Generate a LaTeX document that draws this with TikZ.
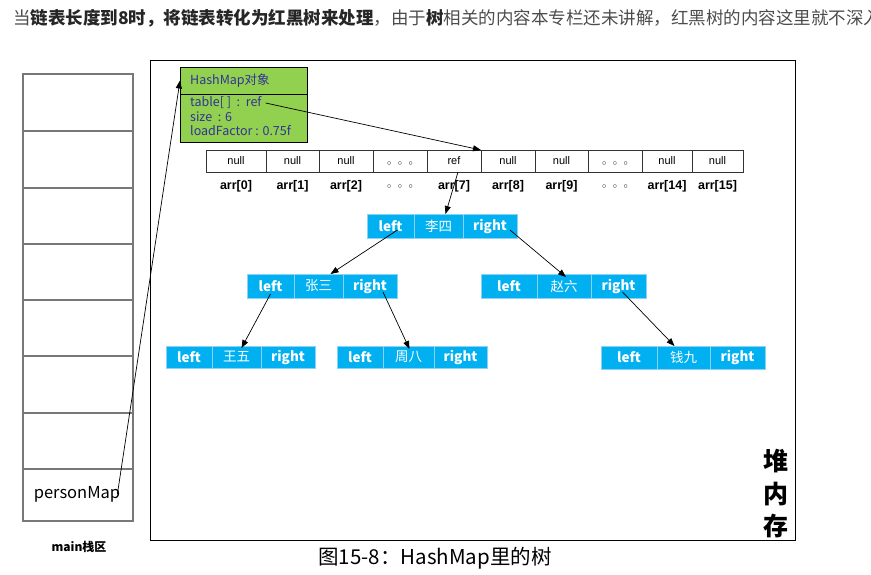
\documentclass[tikz,border=0pt]{standalone}
\usepackage{fontspec}
\setmainfont{Noto Sans CJK SC}
\newfontfamily\arialfont{Liberation Sans}
\usetikzlibrary{arrows.meta,positioning}
\definecolor{tree-blue}{RGB}{0,176,240}
\definecolor{tree-edge}{RGB}{140,210,245}
\definecolor{hm-green}{RGB}{146,208,80}
\definecolor{hm-text}{RGB}{50,50,150}
\definecolor{stack-grey}{RGB}{120,120,120}
\newcommand{\smalldots}[1]{\raisebox{#1}[0pt][0pt]{\fontsize{8}{9}\selectfont$\circ$\hspace{6.5pt}$\circ$\hspace{6.5pt}$\circ$}}

\begin{document}
\begin{tikzpicture}[x=1pt, y=-1pt, >={Triangle[length=8pt,width=6pt]},
    tc/.style={draw=tree-edge, fill=tree-blue, text=white, line width=0.8pt, outer sep=0pt, inner sep=0pt, minimum height=24pt, font=\fontsize{13.5}{14}\selectfont},
    cell/.style={draw=black!80, line width=0.6pt, outer sep=0pt, inner sep=0pt, minimum height=22pt, font=\arialfont\fontsize{11}{12}\selectfont},
    idx/.style={font=\arialfont\bfseries\fontsize{12.5}{13}\selectfont, inner sep=0pt, below=8pt of #1},
    hm/.style={draw=black, fill=hm-green, line width=0.8pt, outer sep=0pt, minimum width=127pt, anchor=north west},
    hmt/.style={text=hm-text, inner sep=0pt, anchor=west, font=\fontsize{12.5}{13}\selectfont}]
  \useasboundingbox (0,0) rectangle (871,574);

  \node[anchor=west, inner sep=0pt, text=black!70, font=\fontsize{17.5}{20}\selectfont] (intro) at (13,18)
    {当{\bfseries\color{black!85}链表长度到8时，将链表转化为红黑树来处理}，由于{\bfseries\color{black!85}树}相关的内容本专栏还未讲解，红黑树的内容这里就不深入};

  % stack
  \draw[stack-grey, line width=1.3pt] (23,74) rectangle (133,521);
  \foreach \y in {131,188,244,300,356,413,469}
    \draw[stack-grey, line width=1.3pt] (23,\y) -- (133,\y);
  \node[font=\fontsize{16.5}{18}\selectfont, inner sep=0pt] (pm) at (77,494) {personMap};
  \node[font=\bfseries\fontsize{12}{13}\selectfont] (stackLbl) at (79,547) {main栈区};

  % heap
  \draw[line width=0.9pt] (150,60) rectangle (795,540);
  \node[font=\bfseries\fontsize{25}{32.5}\selectfont, align=center, inner sep=0pt] (heapLbl) at (776,494) {堆\\内\\存};

  \node[hm, minimum height=27pt] (hmTitle) at (180,67) {};
  \node[hmt] (hmName) at (190,80.5) {HashMap对象};
  \node[hm, minimum height=48pt, below=0pt of hmTitle] (hmBody) {};
  \node[hmt] (tbl) at (190,103) {table[\ ]\ \ :\ \ ref};
  \node[hmt] (sz) at (190,117) {size\ \ : 6};
  \node[hmt] (lf) at (190,131) {loadFactor : 0.75f};

  % table
  \node[cell, minimum width=60pt, anchor=north west] (c0) at (206,150) {null};
  \node[cell, minimum width=53pt, right=0pt of c0] (c1) {null};
  \node[cell, minimum width=54pt, right=0pt of c1] (c2) {null};
  \node[cell, minimum width=54pt, right=0pt of c2] (cd1) {\smalldots{-4pt}};
  \node[cell, minimum width=54pt, right=0pt of cd1] (c7) {ref};
  \node[cell, minimum width=54pt, right=0pt of c7] (c8) {null};
  \node[cell, minimum width=53pt, right=0pt of c8] (c9) {null};
  \node[cell, minimum width=54pt, right=0pt of c9] (cd2) {\smalldots{-4pt}};
  \node[cell, minimum width=50pt, right=0pt of cd2] (c14) {null};
  \node[cell, minimum width=51pt, right=0pt of c14] (c15) {null};

  \node[idx=c0] (l0) {arr[0]};
  \node[idx=c1] (l1) {arr[1]};
  \node[idx=c2] (l2) {arr[2]};
  \node[idx=cd1] (ld1) {\smalldots{-8pt}};
  \node[idx=c7] (l7) {arr[7]};
  \node[idx=c8] (l8) {arr[8]};
  \node[idx=c9] (l9) {arr[9]};
  \node[idx=cd2] (ld2) {\smalldots{-8pt}};
  \node[idx=c14] (l14) {arr[14]};
  \node[idx=c15] (l15) {arr[15]};

  % tree
  \node[tc, minimum width=47pt, anchor=north west] (lisiL) at (367,214) {\bfseries left};
  \node[tc, minimum width=49pt, right=0pt of lisiL] (lisi) {李四};
  \node[tc, minimum width=54pt, right=0pt of lisi] (lisiR) {\bfseries right};

  \node[tc, minimum width=47pt, anchor=north west] (zhangL) at (247,274) {\bfseries left};
  \node[tc, minimum width=49pt, right=0pt of zhangL] (zhang) {张三};
  \node[tc, minimum width=54pt, right=0pt of zhang] (zhangR) {\bfseries right};

  \node[tc, minimum width=56pt, anchor=north west] (zhaoL) at (481,274) {\bfseries left};
  \node[tc, minimum width=54pt, right=0pt of zhaoL] (zhao) {赵六};
  \node[tc, minimum width=55pt, right=0pt of zhao] (zhaoR) {\bfseries right};

  \node[tc, minimum width=46pt, minimum height=22pt, anchor=north west] (wangL) at (166,346) {\bfseries left};
  \node[tc, minimum width=49pt, minimum height=22pt, right=0pt of wangL] (wang) {王五};
  \node[tc, minimum width=54pt, minimum height=22pt, right=0pt of wang] (wangR) {\bfseries right};

  \node[tc, minimum width=46pt, minimum height=22pt, anchor=north west] (zhouL) at (337,346) {\bfseries left};
  \node[tc, minimum width=51pt, minimum height=22pt, right=0pt of zhouL] (zhou) {周八};
  \node[tc, minimum width=53pt, minimum height=22pt, right=0pt of zhou] (zhouR) {\bfseries right};

  \node[tc, minimum width=56pt, minimum height=23pt, anchor=north west] (qianL) at (601,346) {\bfseries left};
  \node[tc, minimum width=53pt, minimum height=23pt, right=0pt of qianL] (qian) {钱九};
  \node[tc, minimum width=55pt, minimum height=23pt, right=0pt of qian] (qianR) {\bfseries right};

  % references
  \draw[->, line width=0.7pt] ([xshift=-3pt]pm.east) -- (hmTitle.west);
  \draw[->, line width=0.7pt] ([xshift=4pt]tbl.east) -- (c7.north east);
  \draw[->, line width=0.7pt] ([xshift=4pt]c7.south) -- ([xshift=7pt]lisi.north);
  \draw[->, line width=0.7pt] ([xshift=7pt,yshift=-4pt]lisiL.center) -- ([xshift=12pt]zhang.north);
  \draw[->, line width=0.7pt] ([xshift=20pt,yshift=-4pt]lisiR.center) -- ([xshift=2pt,yshift=-3pt]zhao.north);
  \draw[->, line width=0.7pt] ([yshift=-8pt]zhangL.center) -- ([xshift=5pt,yshift=-2pt]wang.north);
  \draw[->, line width=0.7pt] ([xshift=13pt,yshift=-6pt]zhangR.center) -- ([xshift=1pt,yshift=-3pt]zhou.north);
  \draw[->, line width=0.7pt] ([xshift=4pt,yshift=-6pt]zhaoR.center) -- ([xshift=-9pt]qian.north);

  \node[font=\fontsize{20.5}{22}\selectfont] (caption) at (435,558) {图15-8：HashMap里的树};
\end{tikzpicture}
\end{document}
